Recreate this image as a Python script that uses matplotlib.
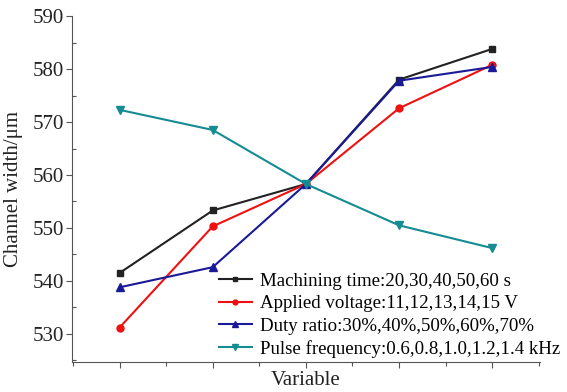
import numpy as np
import matplotlib.pyplot as plt
from matplotlib.ticker import MultipleLocator, NullFormatter

plt.rcParams['font.family'] = ['Liberation Serif', 'DejaVu Serif']

levels = [1, 2, 3, 4, 5]
machining_time = [541.5, 553.3, 558.3, 578.0, 583.8]
applied_voltage = [531.2, 550.3, 558.3, 572.6, 580.8]
duty_ratio = [538.8, 542.6, 558.3, 577.8, 580.4]
pulse_frequency = [572.3, 568.5, 558.3, 550.5, 546.2]

labels = ['Machining time:20,30,40,50,60 s',
          'Applied voltage:11,12,13,14,15 V',
          'Duty ratio:30%,40%,50%,60%,70%',
          'Pulse frequency:0.6,0.8,1.0,1.2,1.4 kHz']

fig = plt.figure(figsize=(5.67, 3.92), dpi=100)
ax = fig.add_axes([0.127, 0.0765, 0.825, 0.8825])

ax.plot(levels, machining_time, color='#222222', marker='s', ms=5, lw=1.5, label=labels[0])
ax.plot(levels, applied_voltage, color='#ee1111', marker='o', ms=5, lw=1.5, label=labels[1])
ax.plot(levels, duty_ratio, color='#1a1a99', marker='^', ms=6, lw=1.5, label=labels[2])
ax.plot(levels, pulse_frequency, color='#148c92', marker='v', ms=6, lw=1.5, label=labels[3])

ax.set_xlim(0.49, 5.51)
ax.set_ylim(524.7, 590)
ax.xaxis.set_major_locator(MultipleLocator(1))
ax.xaxis.set_minor_locator(MultipleLocator(0.5))
ax.xaxis.set_major_formatter(NullFormatter())
ax.yaxis.set_major_locator(MultipleLocator(10))
ax.yaxis.set_minor_locator(MultipleLocator(5))
ax.tick_params(axis='both', which='major', direction='out', length=4, width=0.8, labelsize=15, colors='#555555', labelcolor='#222222', pad=2)
ax.tick_params(axis='y', which='minor', direction='in', length=3, width=0.8, colors='#555555')
ax.tick_params(axis='x', which='minor', direction='out', length=3, width=0.8, colors='#555555')
for s in ['top', 'right']:
    ax.spines[s].set_visible(False)
for s in ['left', 'bottom']:
    ax.spines[s].set_color('#555555')

ax.set_xlabel('Variable', fontsize=15, labelpad=0, color='#222222')
ax.set_ylabel('Channel width/μm', fontsize=15, labelpad=7, color='#222222')

ax.legend(loc='upper left', bbox_to_anchor=(0.386, 0.305), bbox_transform=fig.transFigure,
          frameon=False, fontsize=13.6, handlelength=1.75, handletextpad=0.45,
          labelspacing=0.28, markerscale=0.7, borderaxespad=0, borderpad=0)

fig.savefig('out.png', dpi=100)
